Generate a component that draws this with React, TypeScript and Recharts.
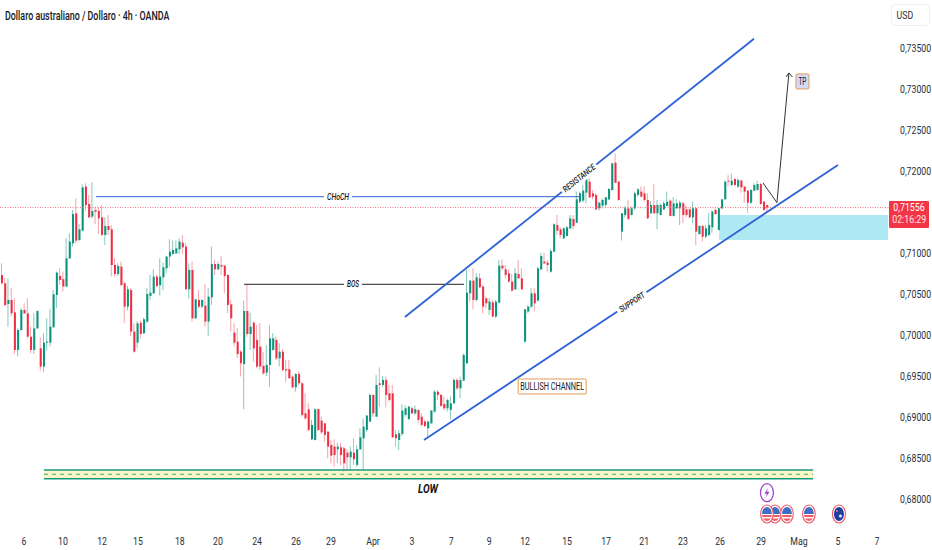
import React from "react";
import { ComposedChart, Bar, Cell, XAxis, YAxis, ReferenceLine, ReferenceArea, ReferenceDot } from "recharts";

// Prices in units of 0.00001 (AUD/USD, 4h candles)
const opens = [70734,70632,70380,70429,70278,69819,70063,70307,70266,69981,69819,70083,69839,69616,69908,69908,70095,70490,70722,70681,70592,70937,71120,71486,71161,71275,71812,71600,71446,71527,71515,71437,71222,71332,71291,70856,70746,70836,70632,70348,70551,70043,69908,70152,70022,70165,70478,70510,70714,70608,70705,70815,70958,70990,70998,71047,71128,71080,70559,70795,70205,70429,70348,70360,70165,70461,70868,70803,70856,70848,70734,70376,70030,69920,69798,69648,70295,70014,70152,69941,69860,69624,69542,69636,69819,69941,69717,69798,69583,69583,69493,69363,69526,69412,69046,
69095,68729,68721,69099,68957,68924,68822,68660,68640,68607,68631,68619,68566,68509,68566,68416,68607,68741,68843,68945,69270,69005,69412,69392,69453,69290,69290,68790,68721,68794,69026,68977,69107,69046,69087,69005,68945,68863,68924,69067,69310,69270,69160,69107,69087,69168,69453,69351,69445,69656,70510,70665,70429,70693,70592,70449,70307,70400,70226,70396,70848,70803,70754,70653,70559,70746,70693,69921,
70287,70348,70510,70421,70803,70897,70884,70775,71019,71344,71291,71181,71210,71303,71417,71372,71629,71641,71738,71873,71730,71710,71547,71580,71588,71657,71771,72104,71873,71263,71466,71547,71466,71547,71710,71751,71730,71649,71486,71588,71486,71466,71535,71576,71641,71454,71547,71547,71608,71535,71535,71437,71547,71234,71332,71202,71222,71315,71527,71283,71547,71657,71885,71832,71905,71812,71885,71812,71763,71616,71763,71771,71844,71629,71588];
const highs = [70876,70693,70693,70571,70449,70083,70327,70388,70449,70103,70266,70300,69973,70022,70205,70315,70551,70775,70815,70775,71181,71242,71527,71669,71356,71840,71852,71710,71865,71560,71560,71588,71437,71466,71344,70937,70876,70897,70653,70600,70571,70144,70173,70177,70213,70571,70734,70803,70734,70937,70884,70966,71169,71153,71153,71181,71222,71120,70876,70897,70440,70551,70437,70624,70571,71080,70917,70897,70966,70856,70740,70429,70144,70083,69819,70421,70624,70274,70165,70124,70144,69798,69880,70116,70022,69981,69900,69831,69697,69697,69514,69534,69555,69432,69290,
69168,68965,69107,69100,69005,68926,68824,68721,68729,68688,68688,68640,68607,68640,68741,68660,68863,68985,69026,69290,69282,69514,69607,69502,69494,69392,69392,68843,68843,69160,69148,69136,69127,69140,69095,69046,68965,68957,69087,69331,69331,69282,69250,69229,69250,69473,69473,69494,69778,70795,70670,70815,70754,70754,70612,70470,70449,70429,70429,70917,70925,70856,70803,70746,70815,70917,70815,70320,
70368,70571,70571,70835,71006,71006,70917,71047,71364,71466,71315,71315,71332,71466,71466,71751,71751,71832,71954,71913,71771,71730,71629,71669,71685,71791,72104,72218,71880,71490,71576,71649,71568,71751,71791,71812,71812,71730,71637,71840,71649,71608,71629,71751,71657,71681,71657,71641,71629,71588,71547,71629,71550,71344,71344,71344,71494,71519,71547,71550,71660,71885,71954,71974,71913,71913,71901,71820,71765,71779,71852,71885,71860,71640,71590];
const lows = [70620,70347,70103,70226,69770,69738,70050,70258,69961,69778,69770,70075,69567,69554,69811,69860,70090,70327,70612,70530,70590,70930,71080,71120,71141,71263,71519,71425,71425,71356,71234,71210,71100,71222,70714,70714,70722,70592,70144,70299,69990,69786,69839,69961,70014,70144,70429,70505,70583,70482,70551,70754,70836,70978,70990,70990,70990,70551,70449,70165,70193,70327,70327,70103,69990,70368,70734,70787,70734,70510,70266,70043,69860,69717,69494,69095,69981,69819,69676,69595,69575,69514,69502,69371,69811,69697,69616,69555,69424,69470,69351,69310,69392,69005,68965,
68822,68721,68713,68831,68794,68700,68497,68436,68395,68436,68416,68335,68355,68355,68416,68395,68599,68355,68822,68940,69005,69000,69127,69371,69119,69188,68741,68639,68599,68770,69005,68965,69038,69026,68924,68884,68875,68753,68916,69054,69209,69127,69087,69067,68973,69160,69331,69229,69440,69650,70409,70315,70409,70571,70266,70327,70246,70217,70213,70388,70795,70693,70640,70530,70551,70681,70551,69908,
70266,70327,70287,70413,70787,70868,70775,70762,71010,71222,71181,71173,71202,71291,71291,71364,71608,71616,71608,71669,71657,71519,71519,71547,71568,71649,71763,71852,71640,71153,71437,71405,71460,71527,71690,71681,71629,71417,71478,71478,71291,71458,71527,71568,71446,71446,71539,71344,71364,71437,71425,71364,71100,71222,71141,71181,71210,71250,71466,71275,71535,71649,71812,71820,71820,71791,71738,71616,71494,71600,71751,71763,71588,71519,71500];
const closes = [70632,70368,70429,70266,69819,70063,70307,70266,69981,69819,70083,70295,69616,69908,69920,70103,70498,70762,70673,70592,70937,71141,71478,71153,71291,71803,71588,71437,71515,71507,71425,71222,71332,71283,70856,70746,70844,70612,70348,70559,70043,69798,70144,70014,70193,70502,70518,70714,70600,70714,70827,70958,71018,71039,71059,71141,71071,70559,70795,70205,70437,70348,70429,70165,70470,70868,70803,70868,70836,70722,70368,70205,69908,69770,69656,70295,70014,70103,69839,69616,69616,69534,69636,69961,69961,69717,69798,69575,69567,69473,69363,69526,69412,69026,68985,
68843,68904,69095,68843,68814,68782,68639,68530,68538,68640,68538,68436,68509,68578,68485,68607,68753,68883,69018,69270,69046,69392,69392,69453,69270,69209,68753,68741,68802,69079,69107,69127,69046,69095,68965,68904,68892,68945,69079,69310,69270,69136,69107,69209,69168,69453,69351,69453,69758,70518,70665,70429,70705,70583,70348,70388,70409,70226,70409,70848,70815,70734,70653,70543,70754,70693,70559,70315,
70348,70510,70388,70815,70966,70876,70856,71027,71352,71275,71222,71303,71315,71425,71332,71657,71730,71763,71934,71681,71690,71535,71616,71649,71681,71783,72096,71860,71649,71486,71547,71417,71547,71730,71779,71690,71649,71425,71588,71486,71588,71588,71608,71629,71454,71608,71608,71616,71466,71466,71437,71547,71263,71332,71202,71303,71344,71507,71478,71547,71657,71873,71873,71885,71832,71893,71803,71751,71616,71771,71832,71844,71600,71527,71556];

const xTickIndex = [6.9,19,31.1,42.2,55.2,67,79.1,91.2,102,115,127.1,139.2,151,162.1,175.1,187.2,199,211,222.5,235.2,246.9,259,271.1];
const xTickLabels = ["6","10","12","15","18","20","24","26","29","Apr","3","7","9","12","15","17","21","23","26","29","Mag","5","7"];
const yTicks = [0.68,0.685,0.69,0.695,0.7,0.705,0.71,0.72,0.725,0.73,0.735];

const lastPrice = 0.71556;
const chochLine = [[29.2,0.71689],[179.1,0.71689]];
const bosLine = [[75.1,0.7062],[143.2,0.7062]];
const resistanceLine = [[124.9,0.70221],[233,0.73617]];
const supportLine = [[130.8,0.6872],[259,0.72076]];
const arrowPath = [[235.8,0.71856],[240.1,0.71616],[243.8,0.73199]];
const arrowHead = [[242.9,0.7315],[243.8,0.73199],[244.9,0.7315]];
const lowZone = { x: [13.1,251.3], y: [0.68248,0.68354], mid: 0.68302 };
const blueZone = { x: [222.2,274.5], y: [0.71161,0.71466] };
const usEvents = [239.5,237,243.2,250];
const auEvent = 259.3;
const boltEvent = 237;
const eventRowPrices = [0.68077,0.67817];

const GREEN = "#0b937c", RED = "#ec2f44", GREEN_W = "#84c9bb", RED_W = "#f5a3ab", BLUE = "#2f62d6";
const FONT = "Roboto,sans-serif";
const SQUEEZE = 0.76;

const table = opens.map((o, i) => {
  const c = closes[i];
  return {
    i,
    up: c >= o,
    wick: [lows[i] / 1e5, highs[i] / 1e5],
    body: [Math.min(o, c) / 1e5, Math.max(o, c) / 1e5],
  };
});

const seg = (p: number[][]) => p.slice(1).map((q, k) => [
  { x: p[k][0], y: p[k][1] },
  { x: q[0], y: q[1] },
]);

const XTick = ({ x, y, payload }: any) => (
  <text transform={`translate(${x},${y + 10}) scale(${SQUEEZE},1)`} textAnchor="middle" fontSize={11.5} fontFamily={FONT} fill="#2a2e39">
    {xTickLabels[xTickIndex.indexOf(payload.value)]}
  </text>
);
const YTick = ({ x, y, payload }: any) => (
  <text transform={`translate(${x},${y + 4}) scale(${SQUEEZE},1)`} textAnchor="start" fontSize={11.5} fontFamily={FONT} fill="#2a2e39">
    {payload.value.toFixed(5).replace(".", ",")}
  </text>
);

const LineLabel = ({ cx, cy, text, w, tw, angle = 0 }: any) => (
  <g transform={`translate(${cx},${cy}) rotate(${angle})`}>
    <rect x={-w / 2} y={-6} width={w} height={12} fill="#fff" />
    <text textAnchor="middle" y={3} fontSize={8.5} fontStyle="italic" fontWeight={500} fontFamily={FONT} fill="#1a1a1a" textLength={tw} lengthAdjust="spacingAndGlyphs">{text}</text>
  </g>
);

const BoxLabel = ({ cx, cy, text, w, h, tw, fill }: any) => (
  <g>
    <rect x={cx - w / 2} y={cy - h / 2} width={w} height={h} rx={1} fill={fill} stroke="#e49a55" strokeWidth={1} />
    <text x={cx} y={cy + 3.8} textAnchor="middle" fontSize={10.5} fontFamily={FONT} fill="#222" textLength={tw} lengthAdjust="spacingAndGlyphs">{text}</text>
  </g>
);

const UsIcon = ({ cx, cy }: any) => (
  <g>
    <clipPath id={`us${Math.round(cx)}`}><ellipse cx={cx} cy={cy} rx={5} ry={7} /></clipPath>
    <ellipse cx={cx} cy={cy} rx={6.3} ry={9} fill="#fff" stroke="#ef5a66" strokeWidth={1.1} />
    <g clipPath={`url(#us${Math.round(cx)})`}>
      <rect x={cx - 5} y={cy - 7} width={10} height={7} fill="#3f6fc4" />
      <rect x={cx - 5} y={cy + 1} width={10} height={2} fill="#ef5a66" />
      <rect x={cx - 5} y={cy + 4.5} width={10} height={2.5} fill="#ef5a66" />
    </g>
  </g>
);
const AuIcon = ({ cx, cy }: any) => (
  <g>
    <ellipse cx={cx} cy={cy} rx={6.5} ry={9} fill="#fff" stroke="#ef5a66" strokeWidth={1.1} />
    <ellipse cx={cx} cy={cy} rx={5} ry={7} fill="#1f3f9e" />
    <circle cx={cx + 1.5} cy={cy + 2} r={1.5} fill="#e9eefc" />
    <circle cx={cx - 2} cy={cy - 3} r={1} fill="#e8808a" />
  </g>
);
const BoltIcon = ({ cx, cy }: any) => (
  <g>
    <ellipse cx={cx} cy={cy} rx={6.5} ry={9} fill="#fff" stroke="#9c3fc4" strokeWidth={1.2} />
    <path d={`M${cx + 1.5} ${cy - 5}L${cx - 2.5} ${cy + 1}H${cx}L${cx - 1.2} ${cy + 5}L${cx + 2.5} ${cy - 1}H${cx}Z`} fill="#9c3fc4" />
  </g>
);

const lineProps = { ifOverflow: "visible" as const };

export default function App() {
  return (
    <div style={{ position: "absolute", left: 0, top: 0, width: 932, height: 550, background: "#fff", overflow: "hidden" }}>
      <ComposedChart width={932} height={550} data={table} margin={{ top: 0, right: 0, bottom: 0, left: 0 }}>
        <XAxis xAxisId="main" dataKey="i" type="number" domain={[-0.5, 274.8]} ticks={xTickIndex}
          interval={0} height={25} axisLine={false} tickLine={false} tickMargin={4} allowDataOverflow
          tick={<XTick />} />
        <XAxis xAxisId="wick" dataKey="i" type="number" domain={[-0.5, 274.8]} hide />
        <YAxis yAxisId="p" orientation="right" type="number" domain={[0.67683, 0.74089]} ticks={yTicks} width={43}
          allowDataOverflow interval={0} axisLine={false} tickLine={false} tickMargin={5}
          tick={<YTick />} />

        <ReferenceArea xAxisId="main" yAxisId="p" x1={blueZone.x[0]} x2={blueZone.x[1]} y1={blueZone.y[0]} y2={blueZone.y[1]} fill="#aee8f2" fillOpacity={1} stroke="none" {...lineProps} />
        <ReferenceArea xAxisId="main" yAxisId="p" x1={lowZone.x[0]} x2={lowZone.x[1]} y1={lowZone.y[0]} y2={lowZone.y[1]} fill="#fdf6c6" fillOpacity={1} stroke="none" {...lineProps} />
        <ReferenceLine xAxisId="main" yAxisId="p" segment={[{ x: lowZone.x[0], y: lowZone.y[1] }, { x: lowZone.x[1], y: lowZone.y[1] }]} stroke="#159a80" strokeWidth={1.6} {...lineProps} />
        <ReferenceLine xAxisId="main" yAxisId="p" segment={[{ x: lowZone.x[0], y: lowZone.y[0] }, { x: lowZone.x[1], y: lowZone.y[0] }]} stroke="#159a80" strokeWidth={1.6} {...lineProps} />
        <ReferenceLine xAxisId="main" yAxisId="p" segment={[{ x: lowZone.x[0], y: lowZone.mid }, { x: lowZone.x[1], y: lowZone.mid }]} stroke="#3aa86a" strokeWidth={1} strokeDasharray="4 4" {...lineProps} />
        <ReferenceLine xAxisId="main" yAxisId="p" segment={[{ x: -0.5, y: lastPrice }, { x: 274.8, y: lastPrice }]} stroke="#f0707c" strokeWidth={1} strokeDasharray="1 1.5" {...lineProps} />

        <Bar xAxisId="wick" yAxisId="p" dataKey="wick" barSize={1} isAnimationActive={false}>
          {table.map((d) => <Cell key={d.i} fill={d.up ? GREEN_W : RED_W} />)}
        </Bar>
        <Bar xAxisId="main" yAxisId="p" dataKey="body" barSize={2} isAnimationActive={false}>
          {table.map((d) => <Cell key={d.i} fill={d.up ? GREEN : RED} />)}
        </Bar>

        {seg(chochLine).map((s, k) => <ReferenceLine key={"c" + k} xAxisId="main" yAxisId="p" segment={s} stroke={BLUE} strokeWidth={1} {...lineProps} />)}
        {seg(bosLine).map((s, k) => <ReferenceLine key={"b" + k} xAxisId="main" yAxisId="p" segment={s} stroke="#222" strokeWidth={1} {...lineProps} />)}
        {seg(resistanceLine).map((s, k) => <ReferenceLine key={"r" + k} xAxisId="main" yAxisId="p" segment={s} stroke={BLUE} strokeWidth={1.8} {...lineProps} />)}
        {seg(supportLine).map((s, k) => <ReferenceLine key={"s" + k} xAxisId="main" yAxisId="p" segment={s} stroke={BLUE} strokeWidth={1.8} {...lineProps} />)}
        {seg(arrowPath).map((s, k) => <ReferenceLine key={"a" + k} xAxisId="main" yAxisId="p" segment={s} stroke="#333" strokeWidth={1} {...lineProps} />)}
        {seg(arrowHead).map((s, k) => <ReferenceLine key={"h" + k} xAxisId="main" yAxisId="p" segment={s} stroke="#333" strokeWidth={1} {...lineProps} />)}

        <ReferenceDot xAxisId="main" yAxisId="p" x={104.2} y={0.71689} {...lineProps} shape={(p: any) => <LineLabel {...p} text="CHoCH" w={28} tw={22} />} />
        <ReferenceDot xAxisId="main" yAxisId="p" x={108.8} y={0.7062} {...lineProps} shape={(p: any) => <LineLabel {...p} text="BOS" w={18} tw={12} />} />
        <ReferenceDot xAxisId="main" yAxisId="p" x={178.8} y={0.71917} {...lineProps} shape={(p: any) => <LineLabel {...p} text="RESISTANCE" w={44} tw={39} angle={-38.5} />} />
        <ReferenceDot xAxisId="main" yAxisId="p" x={195.2} y={0.70404} {...lineProps} shape={(p: any) => <LineLabel {...p} text="SUPPORT" w={35} tw={29} angle={-33.7} />} />
        <ReferenceDot xAxisId="main" yAxisId="p" x={170.5} y={0.69373} {...lineProps} shape={(p: any) => <BoxLabel {...p} text="BULLISH CHANNEL" w={68} h={15} tw={64} fill="#fff" />} />
        <ReferenceDot xAxisId="main" yAxisId="p" x={248} y={0.73095} {...lineProps} shape={(p: any) => <BoxLabel {...p} text="TP" w={13} h={15} tw={8} fill="#d3dbfb" />} />
        <ReferenceDot xAxisId="main" yAxisId="p" x={132.05} y={0.68134} {...lineProps} shape={({ cx, cy }: any) => (
          <text x={cx} y={cy + 4.5} textAnchor="middle" fontSize={12} fontWeight={700} fontStyle="italic" fontFamily={FONT} fill="#111" textLength={20} lengthAdjust="spacingAndGlyphs">LOW</text>
        )} />
        <ReferenceDot xAxisId="main" yAxisId="p" x={boltEvent} y={eventRowPrices[0]} {...lineProps} shape={(p: any) => <BoltIcon {...p} />} />
        {usEvents.map((x, k) => <ReferenceDot key={k} xAxisId="main" yAxisId="p" x={x} y={eventRowPrices[1]} {...lineProps} shape={(p: any) => <UsIcon {...p} />} />)}
        <ReferenceDot xAxisId="main" yAxisId="p" x={auEvent} y={eventRowPrices[1]} {...lineProps} shape={(p: any) => <AuIcon {...p} />} />
      </ComposedChart>

      <div style={{ position: "absolute", left: 5, top: 8, fontFamily: FONT, fontSize: 12.5, fontWeight: 500, color: "#131722", whiteSpace: "nowrap", transform: "scaleX(0.71)", transformOrigin: "left top" }}>
        Dollaro australiano / Dollaro · 4h · OANDA
      </div>
      <div style={{ position: "absolute", left: 891, top: 4, width: 39, height: 22, border: "1px solid #eef0f3", borderRadius: 4, boxSizing: "border-box" }}>
        <div style={{ fontFamily: FONT, fontSize: 11.5, color: "#2a2e39", lineHeight: "20px", paddingLeft: 6, transform: `scaleX(${SQUEEZE})`, transformOrigin: "left top" }}>USD</div>
      </div>
      <div style={{ position: "absolute", left: 889, top: 201, width: 40, height: 27, background: "#f23645", borderRadius: 1, color: "#fff", fontFamily: FONT, fontSize: 10.5, lineHeight: "12.5px", textAlign: "center", paddingTop: 1, boxSizing: "border-box" }}>
        <div style={{ transform: "scaleX(0.84)", height: 12 }}>0,71556</div>
        <div style={{ color: "#ffe3e6", transform: "scaleX(0.84)", height: 12 }}>02:16:29</div>
      </div>
    </div>
  );
}
